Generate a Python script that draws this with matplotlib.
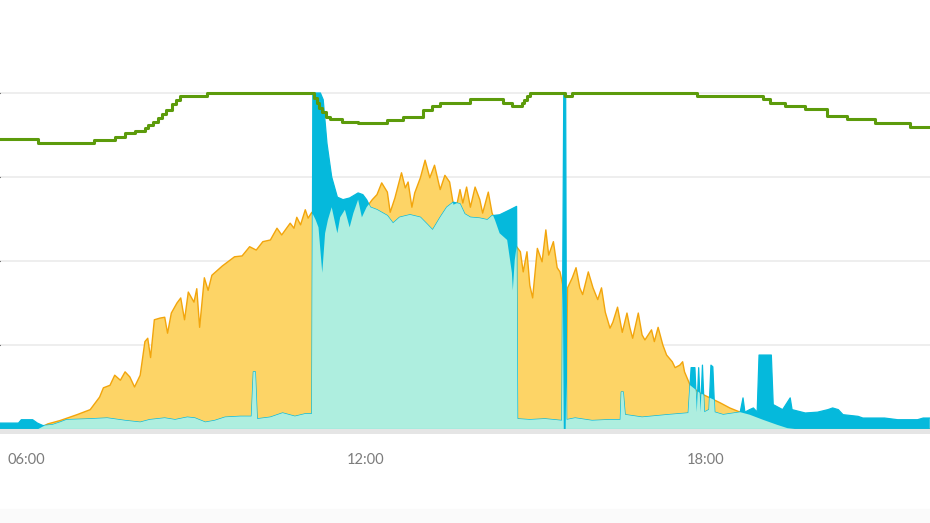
import numpy as np
import matplotlib.pyplot as plt
from matplotlib.patches import Rectangle

# PV production (kW)
pv_time = ["05:32", "06:13", "06:23", "06:36", "06:54", "07:08", "07:18", "07:22", "07:29", "07:34",
           "07:40", "07:45", "07:50", "07:55", "08:01", "08:06", "08:09", "08:12", "08:16", "08:22",
           "08:27", "08:30", "08:34", "08:40", "08:44", "08:48", "08:52", "08:58", "09:01", "09:04",
           "09:09", "09:13", "09:17", "09:28", "09:41", "09:49", "09:57", "10:04", "10:11", "10:19",
           "10:26", "10:31", "10:40", "10:44", "10:47", "10:51", "10:56", "10:59", "11:03", "11:07",
           "11:10", "11:14", "11:17", "11:20", "11:24", "11:30", "11:33", "11:38", "11:43", "11:47",
           "11:52", "11:56", "12:01", "12:07", "12:12", "12:17", "12:23", "12:26", "12:31", "12:38",
           "12:42", "12:45", "12:49", "12:52", "12:58", "13:03", "13:08", "13:13", "13:19", "13:24",
           "13:29", "13:33", "13:37", "13:40", "13:43", "13:47", "13:51", "13:56", "14:01", "14:04",
           "14:10", "14:14", "14:17", "14:22", "14:30", "14:35", "14:36", "14:38", "14:40", "14:44",
           "14:47", "14:51", "14:54", "14:57", "15:02", "15:07", "15:11", "15:14", "15:19", "15:23",
           "15:26", "15:29", "15:30", "15:32", "15:34", "15:39", "15:43", "15:47", "15:50", "15:56",
           "16:01", "16:06", "16:10", "16:14", "16:19", "16:22", "16:27", "16:32", "16:37", "16:40",
           "16:43", "16:49", "16:53", "16:56", "17:03", "17:06", "17:10", "17:15", "17:19", "17:25",
           "17:28", "17:33", "17:36", "17:38", "17:44", "17:54", "18:05", "18:16", "18:26", "18:37",
           "18:47", "19:01", "19:16", "19:27", "19:35", "21:58"]
pv_kw = [0, 0, 0.06, 0.10, 0.17, 0.23, 0.38, 0.49, 0.52, 0.64,
         0.58, 0.68, 0.62, 0.50, 0.64, 1.04, 1.08, 0.85, 1.30, 1.32,
         1.33, 1.14, 1.38, 1.50, 1.56, 1.30, 1.63, 1.51, 1.67, 1.21,
         1.80, 1.65, 1.83, 1.94, 2.05, 2.06, 2.17, 2.13, 2.23, 2.25,
         2.39, 2.31, 2.45, 2.39, 2.52, 2.43, 2.61, 2.51, 2.58, 2.49,
         2.40, 1.86, 2.33, 2.49, 2.64, 2.33, 2.52, 2.61, 2.40, 2.57,
         2.73, 2.52, 2.64, 2.73, 2.79, 2.93, 2.82, 2.58, 2.75, 3.05,
         2.87, 2.94, 2.64, 2.81, 2.99, 3.20, 2.99, 3.14, 2.85, 3.02,
         2.94, 2.67, 2.69, 2.85, 2.69, 2.88, 2.64, 2.88, 2.73, 2.57,
         2.82, 2.57, 2.49, 2.33, 2.25, 1.86, 1.65, 2.01, 2.17, 2.11,
         1.87, 2.11, 1.71, 1.56, 2.15, 1.99, 2.37, 2.07, 2.23, 1.92,
         1.87, 1.71, 0, 0, 1.68, 1.80, 1.92, 1.68, 1.60, 1.87,
         1.68, 1.54, 1.68, 1.39, 1.20, 1.27, 1.45, 1.15, 1.38, 1.21,
         1.08, 1.38, 1.12, 1.06, 1.18, 1.04, 1.21, 1.00, 0.88, 0.80,
         0.73, 0.76, 0.80, 0.68, 0.52, 0.43, 0.37, 0.31, 0.25, 0.20,
         0.17, 0.11, 0.05, 0.01, 0, 0]

# house consumption (kW)
load_time = ["05:32", "05:52", "05:55", "06:07", "06:12", "06:18", "06:28", "06:36", "06:43", "07:08",
             "07:26", "07:45", "08:01", "08:11", "08:27", "08:38", "08:51", "08:59", "09:10", "09:20",
             "09:31", "09:47", "09:59", "10:01", "10:03", "10:05", "10:19", "10:32", "10:45", "10:56",
             "11:03", "11:04", "11:12", "11:15", "11:19", "11:24", "11:30", "11:36", "11:43", "11:52",
             "11:57", "12:01", "12:05", "12:12", "12:23", "12:29", "12:36", "12:47", "12:58", "13:05",
             "13:11", "13:19", "13:26", "13:33", "13:40", "13:45", "13:51", "14:01", "14:09", "14:14",
             "14:22", "14:33", "14:40", "14:41", "14:54", "15:10", "15:28", "15:30", "15:32", "15:33",
             "15:42", "16:00", "16:19", "16:30", "16:31", "16:33", "16:35", "16:53", "17:21", "17:42",
             "17:45", "17:49", "17:51", "17:53", "17:55", "17:57", "17:59", "18:04", "18:06", "18:08",
             "18:10", "18:19", "18:37", "18:40", "18:42", "18:47", "18:51", "18:55", "18:57", "19:10",
             "19:12", "19:22", "19:30", "19:32", "19:46", "19:59", "20:10", "20:15", "20:21", "20:26",
             "20:42", "20:47", "21:10", "21:24", "21:45", "21:51", "21:58"]
load_kw = [0.07, 0.07, 0.11, 0.11, 0.07, 0.04, 0.05, 0.08, 0.11, 0.12,
           0.13, 0.10, 0.08, 0.11, 0.13, 0.11, 0.14, 0.13, 0.08, 0.10,
           0.14, 0.15, 0.15, 0.68, 0.68, 0.12, 0.14, 0.19, 0.15, 0.18,
           0.18, 4.00, 4.00, 3.92, 3.40, 3.00, 2.76, 2.73, 2.75, 2.81,
           2.79, 2.73, 2.64, 2.61, 2.54, 2.45, 2.52, 2.55, 2.52, 2.44,
           2.37, 2.52, 2.64, 2.70, 2.68, 2.56, 2.52, 2.51, 2.49, 2.54,
           2.55, 2.61, 2.65, 0.12, 0.11, 0.12, 0.10, 4.00, 4.00, 0.11,
           0.13, 0.10, 0.11, 0.11, 0.44, 0.44, 0.17, 0.14, 0.17, 0.19,
           0.73, 0.73, 0.20, 0.73, 0.20, 0.76, 0.20, 0.23, 0.76, 0.74,
           0.20, 0.17, 0.20, 0.37, 0.20, 0.23, 0.25, 0.20, 0.88, 0.88,
           0.29, 0.23, 0.37, 0.23, 0.19, 0.20, 0.23, 0.25, 0.23, 0.17,
           0.15, 0.13, 0.13, 0.11, 0.11, 0.13, 0.13]

# battery state of charge (%)
soc_time = ["05:32", "06:13", "07:12", "07:34", "07:45", "07:55", "08:06", "08:09", "08:15", "08:20",
            "08:24", "08:28", "08:35", "08:39", "08:43", "09:12", "11:05", "11:08", "11:11", "11:14",
            "11:18", "11:22", "11:35", "11:52", "12:23", "12:40", "13:01", "13:10", "13:19", "13:51",
            "14:26", "14:35", "14:46", "14:48", "14:51", "14:54", "15:31", "15:39", "17:51", "19:01",
            "19:09", "19:24", "19:46", "20:09", "20:30", "21:00", "21:37", "21:58"]
soc_pct = [86.3, 85.0, 86.0, 86.9, 88.1, 88.8, 89.6, 90.5, 91.5, 92.6,
           93.8, 95.0, 96.7, 97.9, 99.1, 100.0, 98.5, 97.0, 95.5, 94.2,
           93.0, 92.2, 91.4, 91.0, 92.0, 93.0, 94.9, 96.1, 97.1, 98.1,
           97.1, 96.1, 97.0, 98.0, 99.0, 100.0, 99.1, 100.0, 99.1, 98.1,
           97.1, 96.1, 95.1, 93.2, 92.2, 91.2, 90.0, 90.0]

tick_hours = [6, 12, 18]
tick_labels = ["06:00", "12:00", "18:00"]


def to_hours(times):
    return np.array([int(t[:2]) + int(t[3:]) / 60 for t in times])


pv_t = to_hours(pv_time)
load_t = to_hours(load_time)
soc_t = to_hours(soc_time)
pv = np.array(pv_kw)
load = np.array(load_kw)

# self consumption = min(pv, load) on a fine common grid
grid = np.union1d(np.linspace(pv_t[0], pv_t[-1], 3000), np.union1d(pv_t, load_t))
self_use = np.minimum(np.interp(grid, pv_t, pv), np.interp(grid, load_t, load))

fig = plt.figure(figsize=(9.3, 5.23), dpi=100)
fig.patches.append(Rectangle((0, 0), 1, 14 / 523, transform=fig.transFigure,
                             color="#fafafa", zorder=0))
ax = fig.add_axes([0, 89 / 523, 1, 425 / 523])

ax.fill_between(pv_t, 0, pv, color="#fdd466", lw=0, zorder=2)
ax.plot(pv_t, pv, color="#f2a50c", lw=1.0, zorder=2)
ax.fill_between(load_t, 0, load, color="#05b9dc", lw=0, zorder=3)
ax.plot(load_t, load, color="#05b9dc", lw=0.9, zorder=3)
ax.fill_between(grid, 0, self_use, color="#aeeedf", lw=0, zorder=4)
ax.axhspan(-0.06, 0, color="#e5e5e5", lw=0, zorder=5)

ax.set_xlim(5.54, 21.97)
ax.set_ylim(-0.06, 5.0)
ax.set_yticks([1, 2, 3, 4])
ax.yaxis.grid(True, color="#ebebeb", lw=1.2)
ax.set_axisbelow(True)
ax.tick_params(axis="y", left=False, labelleft=False)
ax.set_xticks(tick_hours)
ax.set_xticklabels(tick_labels, fontfamily="Lato", fontsize=10.5, color="#7c7c7c")
ax.tick_params(axis="x", length=0, pad=14)
for s in ax.spines.values():
    s.set_visible(False)

# battery state of charge on its own scale (100 % sits on the top gridline)
ax2 = ax.twinx()
ax2.plot(soc_t, soc_pct, color="#5c9b0b", lw=2.2, drawstyle="steps-post", zorder=6)
ax2.set_ylim(-1.5, 125)
ax2.set_yticks([])
for s in ax2.spines.values():
    s.set_visible(False)

plt.savefig("out.png", dpi=100)
